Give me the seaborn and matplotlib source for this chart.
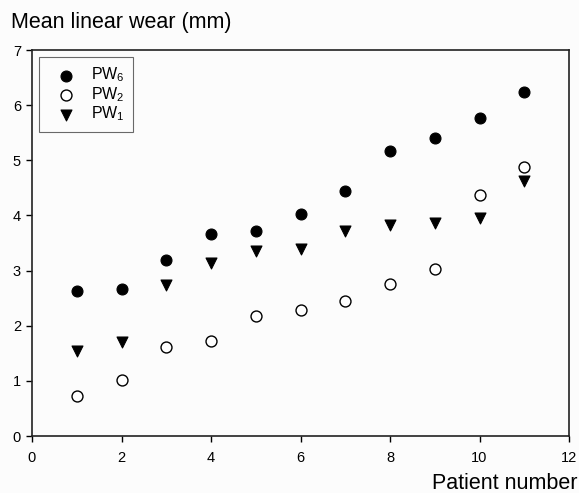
import matplotlib
matplotlib.use("Agg")
import matplotlib.pyplot as plt
import seaborn as sns
import pandas as pd

patients = [1, 2, 3, 4, 5, 6, 7, 8, 9, 10, 11]
pw6 = [2.63, 2.67, 3.19, 3.67, 3.71, 4.02, 4.45, 5.16, 5.40, 5.76, 6.24]
pw2 = [0.72, 1.01, 1.61, 1.73, 2.18, 2.28, 2.44, 2.75, 3.02, 4.37, 4.87]
pw1 = [1.55, 1.71, 2.73, 3.13, 3.36, 3.40, 3.72, 3.83, 3.86, 3.95, 4.62]
xticks = [0, 2, 4, 6, 8, 10, 12]
yticks = [0, 1, 2, 3, 4, 5, 6, 7]

sns.set_style("ticks")
plt.rcParams['font.family'] = ['Liberation Sans', 'DejaVu Sans']
plt.rcParams['mathtext.fontset'] = 'custom'
plt.rcParams['mathtext.rm'] = 'Liberation Sans'
plt.rcParams['mathtext.it'] = 'Liberation Sans'
plt.rcParams['text.color'] = 'black'
plt.rcParams['axes.labelcolor'] = 'black'
plt.rcParams['xtick.color'] = 'black'
plt.rcParams['ytick.color'] = 'black'

fig = plt.figure(figsize=(5.79, 4.93), dpi=100)
fig.patch.set_facecolor('#fcfcfc')
ax = fig.add_axes([32/579, 1-436/493, (569-32)/579, (436-50)/493])
ax.set_facecolor('#fcfcfc')

df6 = pd.DataFrame({'x': patients, 'y': pw6})
df2 = pd.DataFrame({'x': patients, 'y': pw2})
df1 = pd.DataFrame({'x': patients, 'y': pw1})

sns.scatterplot(data=df6, x='x', y='y', ax=ax, marker='o', s=62, color='black',
                edgecolor='black', linewidth=0.8, label='PW$_6$', zorder=3)
sns.scatterplot(data=df2, x='x', y='y', ax=ax, marker='o', s=62, facecolor='white',
                edgecolor='black', linewidth=1.0, label='PW$_2$', zorder=3)
sns.scatterplot(data=df1, x='x', y='y', ax=ax, marker='v', s=62, color='black',
                edgecolor='black', linewidth=0.8, label='PW$_1$', zorder=3)

ax.set_xlim(0, 12)
ax.set_ylim(0, 7)
ax.set_xticks(xticks)
ax.set_yticks(yticks)
ax.tick_params(axis='both', direction='out', length=4, width=1, labelsize=10.5,
               colors='black', labelcolor='black')
ax.tick_params(axis='x', pad=6.5)
ax.tick_params(axis='y', pad=4)
for sp in ax.spines.values():
    sp.set_visible(True)
    sp.set_color('#222222')
    sp.set_linewidth(1.2)
ax.set_xlabel('')
ax.set_ylabel('')

fig.text(11/579, 1-28/493, 'Mean linear wear (mm)', fontsize=15.5, ha='left', va='baseline', color='black')
fig.text(578/579, 1-489/493, 'Patient number', fontsize=15.5, ha='right', va='baseline', color='black')

leg = ax.legend(loc='upper left', bbox_to_anchor=(0.013, 0.982), frameon=True, fancybox=False,
                edgecolor='#444444', fontsize=11.5, handletextpad=0.4, borderpad=0.55,
                labelspacing=0.05, borderaxespad=0, handlelength=2.3, labelcolor='black')
leg.get_frame().set_linewidth(0.8)
leg.get_frame().set_facecolor('#fcfcfc')

fig.savefig('out.png', dpi=100, facecolor=fig.get_facecolor())
